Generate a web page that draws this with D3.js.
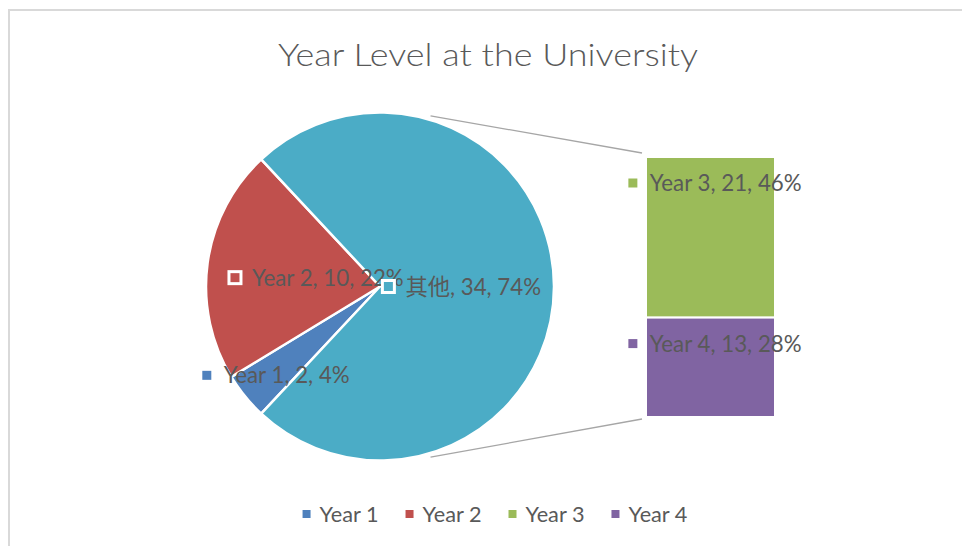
<!DOCTYPE html>
<html><head><meta charset="utf-8">
<script src="https://cdnjs.cloudflare.com/ajax/libs/d3/7.8.5/d3.min.js"></script>
<style>html,body{margin:0;padding:0;background:#fff;}svg{display:block;}</style>
</head><body>
<svg id="c" width="962" height="546"></svg>
<script>
// ---- data ----
const titleText = "Year Level at the University";
const categories = ["Year 1", "Year 2", "Year 3", "Year 4"];
const values = [2, 10, 21, 13];
const colors = ["#4F81BD", "#C0504D", "#9BBB59", "#8064A2"];
const otherName = "其他";
const otherColor = "#4BACC6";
const splitCount = 2; // first two categories stay in the main pie

// ---- layout ----
const W = 962, H = 546;
const cx = 380, cy = 286.5, R = 174;
const barX = 646, barW = 129, barTop = 157, barBottom = 417;
const FONT = "Lato, 'Noto Sans CJK SC', sans-serif";
const TXT = "#595959";

const svg = d3.select("#c");
svg.append("rect").attr("x", 0).attr("y", 0).attr("width", W).attr("height", H).attr("fill", "#fff");
svg.append("rect").attr("x", 9).attr("y", 10).attr("width", 1000).attr("height", 600)
  .attr("fill", "#fff").attr("stroke", "#d9d9d9").attr("stroke-width", 2);

const total = d3.sum(values);
const pct = d3.format(".0%");
const items = categories.map((c, i) => ({name: c, value: values[i], color: colors[i]}));
const mainItems = items.slice(0, splitCount);
const secItems = items.slice(splitCount);
const otherValue = d3.sum(secItems, d => d.value);
const pieItems = mainItems.concat([{name: otherName, value: otherValue, color: otherColor}]);

// measuring helper
function fitSize(text, weight, target) {
  const t = svg.append("text").attr("font-family", FONT).attr("font-size", 100)
    .attr("font-weight", weight).text(text);
  const w = t.node().getComputedTextLength();
  t.remove();
  return 100 * target / w;
}

// ---- title ----
svg.append("text").attr("x", 278).attr("y", 66)
  .attr("font-family", FONT).attr("font-weight", 300).attr("font-size", 31)
  .attr("textLength", 420).attr("lengthAdjust", "spacingAndGlyphs")
  .attr("fill", TXT).text(titleText);

// ---- main pie ----
const otherFrac = otherValue / total;
const start = Math.PI / 2 + otherFrac * Math.PI;
const pie = d3.pie().value(d => d.value).sort(null).startAngle(start).endAngle(start + 2 * Math.PI);
const arcs = pie(pieItems);
const arc = d3.arc().innerRadius(0).outerRadius(R);
const g = svg.append("g").attr("transform", `translate(${cx},${cy})`);
g.selectAll("path").data(arcs).join("path")
  .attr("d", arc).attr("fill", d => d.data.color)
  .attr("stroke", "#fff").attr("stroke-width", 2.5).attr("stroke-linejoin", "round");

// ---- connector lines ----
const connAng = 16.5 * Math.PI / 180, connR = R + 4;
const line = svg.append("g").attr("stroke", "#a6a6a6").attr("stroke-width", 1.3).attr("fill", "none");
line.append("line")
  .attr("x1", cx + connR * Math.sin(connAng)).attr("y1", cy - connR * Math.cos(connAng))
  .attr("x2", barX - 4).attr("y2", barTop - 4);
line.append("line")
  .attr("x1", cx + connR * Math.sin(connAng)).attr("y1", cy + connR * Math.cos(connAng))
  .attr("x2", barX - 4).attr("y2", barBottom + 2);

// ---- secondary stacked bar ----
const y = d3.scaleLinear().domain([0, otherValue]).range([barTop, barBottom]);
let acc = 0;
const segs = secItems.map(d => { const s = {d, y0: acc, y1: acc + d.value}; acc += d.value; return s; });
svg.append("g").selectAll("rect").data(segs).join("rect")
  .attr("x", barX).attr("width", barW)
  .attr("y", s => y(s.y0)).attr("height", s => y(s.y1) - y(s.y0))
  .attr("fill", s => s.d.color).attr("stroke", "#fff").attr("stroke-width", 2);

// ---- data labels ----
const labelSize = fitSize("Year 1, 2, 4%", 400, 126);
function drawLabel(px, py, color, text) {
  const lg = svg.append("g");
  const t = lg.append("text").attr("font-family", FONT).attr("font-size", labelSize)
    .attr("fill", TXT).text(text);
  const tw = t.node().getComputedTextLength();
  const gw = 7.5 + 17 + tw;
  const mx = px - gw / 2 + 7.5;
  t.attr("x", mx + 17).attr("y", py + labelSize * 0.36);
  lg.insert("rect", "text").attr("x", mx - 6).attr("y", py - 6).attr("width", 12).attr("height", 12)
    .attr("fill", color).attr("stroke", "#fff").attr("stroke-width", 3);
}
const labelRad = [136, 65, 81];
arcs.forEach((a, i) => {
  const m = (a.startAngle + a.endAngle) / 2;
  const px = cx + labelRad[i] * Math.sin(m);
  const py = cy - labelRad[i] * Math.cos(m) + (i === 0 ? 3 : 0);
  drawLabel(px, py, a.data.color, `${a.data.name}, ${a.data.value}, ${pct(a.data.value / total)}`);
});
segs.forEach(s => {
  drawLabel(barX + barW / 2 + 3, y(s.y0) + 26, s.d.color,
    `${s.d.name}, ${s.d.value}, ${pct(s.d.value / total)}`);
});

// ---- legend ----
const legSize = fitSize("Year 1", 400, 59);
const lgG = svg.append("g");
let lx = 0;
items.forEach((d, i) => {
  lgG.append("rect").attr("x", lx).attr("y", -4).attr("width", 8).attr("height", 8).attr("fill", d.color);
  const t = lgG.append("text").attr("x", lx + 17).attr("y", legSize * 0.36)
    .attr("font-family", FONT).attr("font-size", legSize).attr("fill", TXT).text(d.name);
  lx += 17 + t.node().getComputedTextLength() + 27;
});
const legW = lx - 27;
lgG.attr("transform", `translate(${495 - legW / 2},514)`);
</script>
</body></html>
